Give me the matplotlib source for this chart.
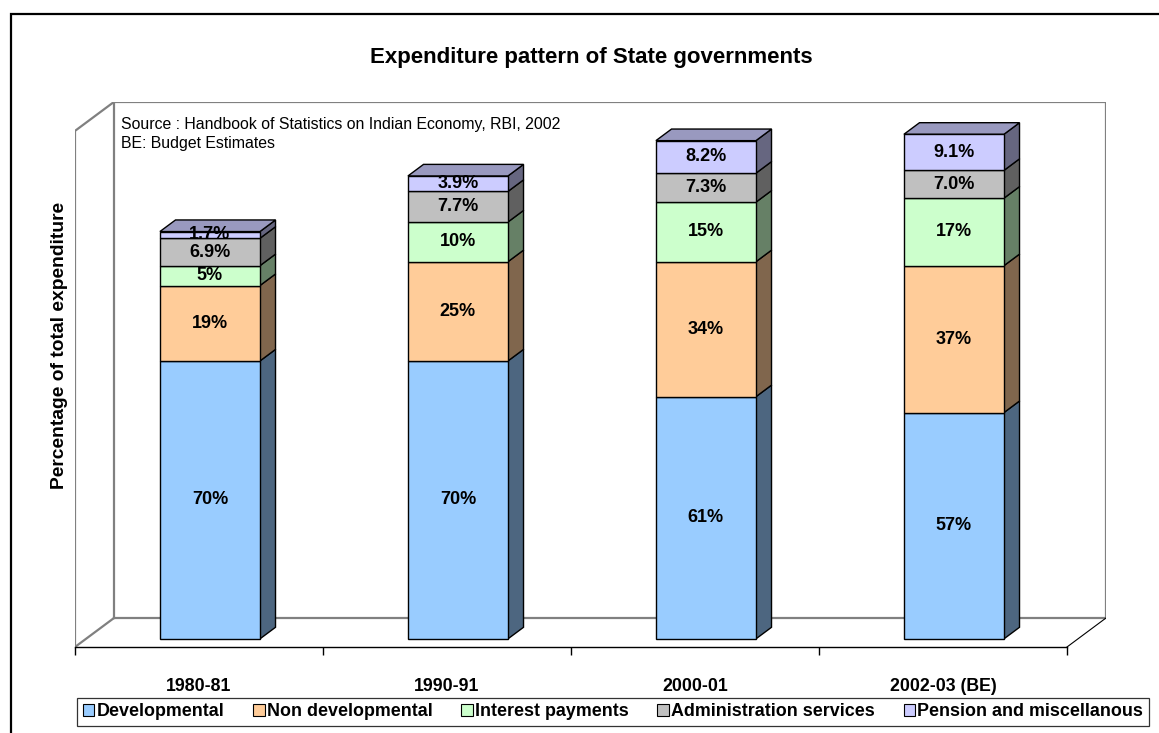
import matplotlib.pyplot as plt
import matplotlib.colors as mcolors
from matplotlib.patches import Patch, Polygon, Rectangle
import numpy as np

plt.rcParams['font.family'] = ['Liberation Sans', 'DejaVu Sans']

years = ['1980-81', '1990-91', '2000-01', '2002-03 (BE)']
series = ['Developmental', 'Non developmental', 'Interest payments',
          'Administration services', 'Pension and miscellanous']
developmental = [70, 70, 61, 57]
non_developmental = [19, 25, 34, 37]
interest = [5, 10, 15, 17]
administration = [6.9, 7.7, 7.3, 7.0]
pension = [1.7, 3.9, 8.2, 9.1]
labels = [
    ['70%', '70%', '61%', '57%'],
    ['19%', '25%', '34%', '37%'],
    ['5%', '10%', '15%', '17%'],
    ['6.9%', '7.7%', '7.3%', '7.0%'],
    ['1.7%', '3.9%', '8.2%', '9.1%'],
]
colors = ['#99CCFF', '#FFCC99', '#CCFFCC', '#C0C0C0', '#CCCCFF']

W, H = 1159, 733
PX_X, PX_Y = 248.0, 3.97      # pixels per category / per percent
YMAX = 130
DX, DY = 39 / PX_X, 29 / PX_Y  # full floor depth in data units
Z0, Z1 = 0.28, 0.68           # depth of bar front / back
BAR_W = 100 / PX_X


def shade(c, f):
    r, g, b = mcolors.to_rgb(c)
    return (r * f, g * f, b * f)


def proj(x, y, z):
    return (x + z * DX, y + z * DY)


fig = plt.figure(figsize=(W / 100, H / 100), dpi=100)
ax = fig.add_axes([75 / W, (H - 647) / H, (4 + DX) * PX_X / W,
                   (YMAX + DY) * PX_Y / H])
ax.set_xlim(-0.5, 3.5 + DX)
ax.set_ylim(0, YMAX + DY)

# walls and floor
wall = dict(color='#808080', lw=1.6, solid_capstyle='projecting', zorder=1)
back = [proj(-0.5, 0, 1), proj(3.5, 0, 1), proj(3.5, YMAX, 1),
        proj(-0.5, YMAX, 1), proj(-0.5, 0, 1)]
ax.plot(*zip(*back), **wall)
left = [proj(-0.5, 0, 0), proj(-0.5, YMAX, 0), proj(-0.5, YMAX, 1)]
ax.plot(*zip(*left), **wall)
ax.plot(*zip(proj(-0.5, 0, 0), proj(-0.5, 0, 1)), **wall)
ax.plot(*zip(proj(3.5, 0, 0), proj(3.5, 0, 1)), color='black', lw=0.8,
        zorder=1)

# stacked 3D bars
data = np.array([developmental, non_developmental, interest,
                 administration, pension], dtype=float)
x = np.arange(len(years))
bottom = np.zeros(len(years))
for k, vals in enumerate(data):
    ax.bar(x + Z0 * DX, vals, bottom=bottom + Z0 * DY, width=BAR_W,
           color=colors[k], edgecolor='black', lw=1.0, zorder=3)
    for i in range(len(years)):
        xr = x[i] + BAR_W / 2
        y0, y1 = bottom[i], bottom[i] + vals[i]
        side = [proj(xr, y0, Z0), proj(xr, y0, Z1), proj(xr, y1, Z1),
                proj(xr, y1, Z0)]
        ax.add_patch(Polygon(side, closed=True, fc=shade(colors[k], 0.5),
                             ec='black', lw=1.0, zorder=2))
        if k == len(data) - 1:
            xl = x[i] - BAR_W / 2
            top = [proj(xl, y1, Z0), proj(xl, y1, Z1), proj(xr, y1, Z1),
                   proj(xr, y1, Z0)]
            ax.add_patch(Polygon(top, closed=True,
                                 fc=shade(colors[k], 0.75), ec='black',
                                 lw=1.0, zorder=2))
        cx, cy = proj(x[i], y0 + vals[i] / 2, Z0)
        ax.text(cx, cy, labels[k][i], ha='center', va='center',
                fontsize=13, fontweight='bold', zorder=5)
    bottom += vals

# category axis
for s in ['top', 'right', 'left']:
    ax.spines[s].set_visible(False)
ax.spines['bottom'].set_bounds(-0.5, 3.5)
ax.spines['bottom'].set_linewidth(1.0)
ax.set_yticks([])
ax.set_xticks(np.arange(-0.5, 4.0, 1.0))
ax.set_xticklabels([])
ax.tick_params(axis='x', which='major', length=6, width=1.0,
               direction='out')
ax.set_xticks(x, minor=True)
ax.set_xticklabels(years, minor=True, fontsize=12.8, fontweight='bold')
ax.tick_params(axis='x', which='minor', length=0, pad=22)
ax.patch.set_visible(False)

ax.text(121, H - 134,
        'Source : Handbook of Statistics on Indian Economy, RBI, 2002\nBE: Budget Estimates',
        transform=None, fontsize=11.4, va='center', ha='left',
        linespacing=1.27)

fig.text(591 / W, 1 - 58 / H, 'Expenditure pattern of State governments',
         ha='center', va='center', fontsize=16, fontweight='bold')
fig.text(60 / W, 1 - 345 / H, 'Percentage of total expenditure',
         ha='center', va='center', rotation=90, fontsize=13.9,
         fontweight='bold')

handles = [Patch(facecolor=c, edgecolor='black', lw=0.8) for c in colors]
leg = fig.legend(handles, series, ncol=5, loc='center',
                 bbox_to_anchor=(613 / W, 1 - 712 / H), frameon=True,
                 fancybox=False, edgecolor='black', borderpad=0.32,
                 handlelength=0.65, handleheight=0.65, handletextpad=0.12,
                 columnspacing=1.6,
                 prop={'size': 12.9, 'weight': 'bold'})
leg.get_frame().set_linewidth(0.9)

# outer chart border
fig.patches.append(Rectangle((11 / W, -0.05), 1.1, 1 - 14 / H + 0.05,
                             transform=fig.transFigure, fill=False,
                             ec='black', lw=1.6))

fig.savefig('out.png', dpi=100)
